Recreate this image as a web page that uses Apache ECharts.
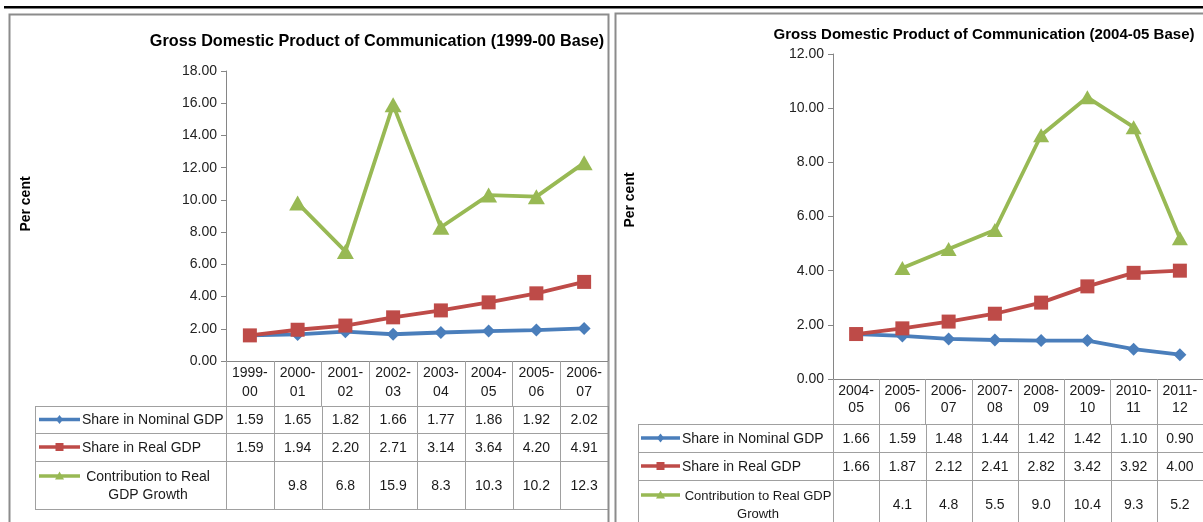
<!DOCTYPE html>
<html><head><meta charset="utf-8">
<script src="https://cdn.jsdelivr.net/npm/echarts@6/dist/echarts.min.js"></script>
<style>html,body{margin:0;padding:0;background:#fff}#c{width:1203px;height:522px}</style>
</head><body><div id="c"></div>
<script>
// ---- data ----
const leftCategories = ['1999-00','2000-01','2001-02','2002-03','2003-04','2004-05','2005-06','2006-07'];
const leftNominal = [1.59,1.65,1.82,1.66,1.77,1.86,1.92,2.02];
const leftReal = [1.59,1.94,2.20,2.71,3.14,3.64,4.20,4.91];
const leftContribution = [null,9.8,6.8,15.9,8.3,10.3,10.2,12.3];

const rightCategories = ['2004-05','2005-06','2006-07','2007-08','2008-09','2009-10','2010-11','2011-12'];
const rightNominal = [1.66,1.59,1.48,1.44,1.42,1.42,1.10,0.90];
const rightReal = [1.66,1.87,2.12,2.41,2.82,3.42,3.92,4.00];
const rightContribution = [null,4.1,4.8,5.5,9.0,10.4,9.3,5.2];

const leftTitle = 'Gross Domestic Product of Communication (1999-00 Base)';
const rightTitle = 'Gross Domestic Product of Communication (2004-05 Base)';
const yAxisTitle = 'Per cent';
const seriesNames = ['Share in Nominal GDP','Share in Real GDP','Contribution to Real GDP Growth'];
const leftRowLabels = ['Share in Nominal GDP','Share in Real GDP','Contribution to Real\nGDP Growth'];
const rightRowLabels = ['Share in Nominal GDP','Share in Real GDP','Contribution to Real GDP\nGrowth'];

// ---- style ----
const FONT = '"Liberation Sans", Arial, sans-serif';
const BLUE = '#4a7ebb', RED = '#be4b48', GREEN = '#98b954';
const AXIS = '#868686', GRID = '#a0a0a0', TXT = '#1a1a1a';

const chart = echarts.init(document.getElementById('c'));

function xAxisDef(cats, gi, lh) {
  return {
    type: 'category', gridIndex: gi, data: cats, boundaryGap: true,
    axisLine: { lineStyle: { color: AXIS, width: 1 } },
    axisTick: { show: true, interval: 0, length: 45, lineStyle: { color: GRID } },
    axisLabel: { interval: 0, fontSize: 14, fontFamily: FONT, color: TXT, margin: 3, lineHeight: lh,
      formatter: v => v.replace('-', '-\n') },
    splitLine: { show: false }
  };
}
function yAxisDef(gi, max) {
  return {
    type: 'value', gridIndex: gi, min: 0, max: max, interval: 2,
    axisLine: { show: true, lineStyle: { color: AXIS, width: 1 } },
    axisTick: { show: true, length: 5, lineStyle: { color: AXIS } },
    axisLabel: { fontSize: 14, fontFamily: FONT, color: '#222', margin: 9, formatter: v => v.toFixed(2) },
    splitLine: { show: false }
  };
}
function lineSeries(name, data, gi, color, symbol, size) {
  return {
    type: 'line', name: name, data: data, xAxisIndex: gi, yAxisIndex: gi,
    symbol: symbol, symbolSize: size, showSymbol: true, connectNulls: false,
    lineStyle: { color: color, width: 3.8 }, itemStyle: { color: color },
    emphasis: { disabled: true }, animation: false
  };
}

chart.setOption({
  animation: false,
  grid: [
    { left: 226, top: 71, width: 382, height: 290 },
    { left: 833, top: 54, width: 370, height: 325 }
  ],
  xAxis: [xAxisDef(leftCategories, 0, 19), xAxisDef(rightCategories, 1, 17.5)],
  yAxis: [yAxisDef(0, 18), yAxisDef(1, 12)],
  series: [
    lineSeries(seriesNames[0], leftNominal, 0, BLUE, 'diamond', 13),
    lineSeries(seriesNames[1], leftReal, 0, RED, 'rect', 14),
    lineSeries(seriesNames[2], leftContribution, 0, GREEN, 'triangle', [17, 15]),
    lineSeries(seriesNames[0], rightNominal, 1, BLUE, 'diamond', 13),
    lineSeries(seriesNames[1], rightReal, 1, RED, 'rect', 14),
    lineSeries(seriesNames[2], rightContribution, 1, GREEN, 'triangle', [16, 14])
  ]
});

// ---- data table & decorations ----
const els = [];
function hline(x1, x2, y, color, w) {
  els.push({ type: 'line', silent: true, shape: { x1: x1, y1: y, x2: x2, y2: y }, style: { stroke: color || GRID, lineWidth: w || 1 } });
}
function vline(x, y1, y2, color, w) {
  els.push({ type: 'line', silent: true, shape: { x1: x, y1: y1, x2: x, y2: y2 }, style: { stroke: color || GRID, lineWidth: w || 1 } });
}
function text(x, y, t, opts) {
  els.push({ type: 'text', silent: true, x: x, y: y, rotation: (opts && opts.rotation) || 0,
    style: Object.assign({ text: t, fontSize: 14, fontFamily: FONT, fill: TXT, align: 'center', verticalAlign: 'middle', lineHeight: 18 }, opts && opts.style) });
}
function legendMark(x1, x2, y, color, kind) {
  els.push({ type: 'line', silent: true, shape: { x1: x1, y1: y, x2: x2, y2: y }, style: { stroke: color, lineWidth: 3.5 } });
  const cx = (x1 + x2) / 2;
  if (kind === 'diamond') {
    els.push({ type: 'polygon', silent: true, shape: { points: [[cx, y - 4.5], [cx + 3.5, y], [cx, y + 4.5], [cx - 3.5, y]] }, style: { fill: color } });
  } else if (kind === 'rect') {
    els.push({ type: 'rect', silent: true, shape: { x: cx - 4, y: y - 4, width: 8, height: 8 }, style: { fill: color } });
  } else {
    els.push({ type: 'polygon', silent: true, shape: { points: [[cx, y - 4.5], [cx + 4.5, y + 3.5], [cx - 4.5, y + 3.5]] }, style: { fill: color } });
  }
}

function drawTable(gi, n, rowsData, rowLabels, tableLeft, rowY, markX1, markX2, labelX, contribCx, contribSize) {
  const centers = [];
  for (let i = 0; i < n; i++) centers.push(chart.convertToPixel({ xAxisIndex: gi }, i));
  const band = centers[1] - centers[0];
  const bounds = [];
  for (let i = 0; i <= n; i++) bounds.push(Math.round(centers[0] - band / 2 + i * band) + 0.5);
  const right = bounds[n];
  rowY.forEach(y => hline(tableLeft, right, y + 0.5));
  vline(tableLeft + 0.5, rowY[0], rowY[rowY.length - 1]);
  bounds.forEach(b => vline(b, rowY[0], rowY[rowY.length - 1]));
  const kinds = ['diamond', 'rect', 'triangle'];
  const colors = [BLUE, RED, GREEN];
  const digits = [2, 2, 1];
  rowsData.forEach((vals, r) => {
    const cy = (rowY[r] + rowY[r + 1]) / 2;
    const twoLine = rowLabels[r].indexOf('\n') >= 0;
    const markY = twoLine ? cy - 9 : cy;
    legendMark(markX1, markX2, markY, colors[r], kinds[r]);
    if (twoLine) text(contribCx, cy + 1, rowLabels[r], { style: { fontSize: contribSize } });
    else text(labelX, cy + 1, rowLabels[r], { style: { align: 'left' } });
    vals.forEach((v, i) => {
      if (v !== null && v !== undefined) text(centers[i], cy + 1, v.toFixed(digits[r]));
    });
  });
}

drawTable(0, leftCategories.length, [leftNominal, leftReal, leftContribution], leftRowLabels,
  35, [406, 433, 461, 509], 39, 80, 82, 148, 14);
drawTable(1, rightCategories.length, [rightNominal, rightReal, rightContribution], rightRowLabels,
  638, [424, 452, 480, 528], 641, 680, 682, 758, 13);

// panel frames, top rule
els.push({ type: 'rect', silent: true, shape: { x: 9.5, y: 14.5, width: 599, height: 520 }, style: { fill: 'none', stroke: '#8c8c8c', lineWidth: 2 } });
els.push({ type: 'rect', silent: true, shape: { x: 615.5, y: 13.5, width: 600, height: 520 }, style: { fill: 'none', stroke: '#8c8c8c', lineWidth: 2 } });
els.push({ type: 'rect', silent: true, shape: { x: 4, y: 6, width: 1199, height: 2.5 }, style: { fill: '#000' } });

// titles and axis titles
text(377, 42, leftTitle, { style: { fontWeight: 'bold', fontSize: 16.2, fill: '#000' } });
text(984, 35, rightTitle, { style: { fontWeight: 'bold', fontSize: 15, fill: '#000' } });
text(26, 204, yAxisTitle, { rotation: Math.PI / 2, style: { fontWeight: 'bold', fontSize: 14, fill: '#000' } });
text(630, 200, yAxisTitle, { rotation: Math.PI / 2, style: { fontWeight: 'bold', fontSize: 14, fill: '#000' } });

chart.setOption({ graphic: { elements: els } });
</script>
</body></html>
